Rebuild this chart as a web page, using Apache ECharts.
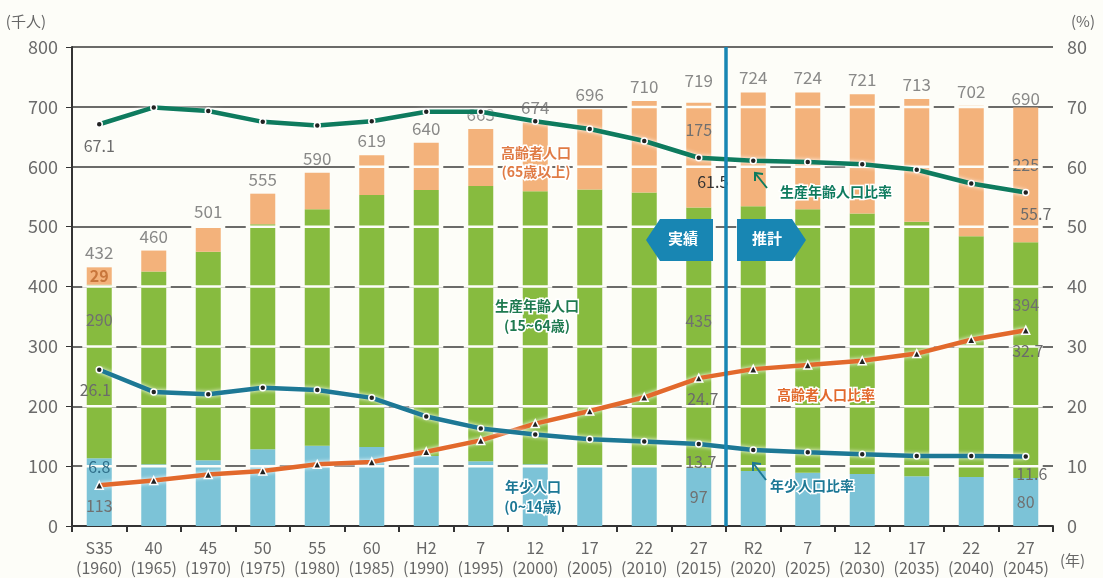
<!DOCTYPE html>
<html>
<head>
<meta charset="utf-8">
<title>人口推移</title>
<script src="https://cdn.jsdelivr.net/npm/echarts@6.0.0/dist/echarts.min.js"></script>
<style>
  html, body { margin: 0; padding: 0; background: #fdfdf8; }
  #main { width: 1103px; height: 578px; }
</style>
</head>
<body>
<div id="main"></div>
<script>
// 年次（和暦・西暦）
var years = ['S35', '40', '45', '50', '55', '60', 'H2', '7', '12', '17', '22', '27', 'R2', '7', '12', '17', '22', '27'];
var westernYears = ['1960', '1965', '1970', '1975', '1980', '1985', '1990', '1995', '2000', '2005', '2010', '2015', '2020', '2025', '2030', '2035', '2040', '2045'];

// 人口（千人）
var young = [113, 103, 110, 128, 134, 132, 117, 108, 103, 101, 100, 97, 92, 89, 87, 83, 82, 80];
var working = [290, 322, 348, 376, 395, 421, 444, 460, 456, 461, 457, 435, 442, 440, 435, 425, 402, 394];
var elderly = [29, 35, 43, 51, 61, 66, 79, 95, 115, 134, 153, 175, 190, 195, 199, 205, 218, 225];
var totals = [432, 460, 501, 555, 590, 619, 640, 663, 674, 696, 710, 719, 724, 724, 721, 713, 702, 690];

// 比率（%）
var youngRate = [26.1, 22.4, 22.0, 23.1, 22.7, 21.4, 18.3, 16.3, 15.3, 14.5, 14.1, 13.7, 12.7, 12.3, 12.0, 11.7, 11.7, 11.6];
var workingRate = [67.1, 69.9, 69.3, 67.5, 66.9, 67.6, 69.2, 69.2, 67.6, 66.3, 64.3, 61.5, 61.0, 60.8, 60.4, 59.5, 57.2, 55.7];
var elderlyRate = [6.8, 7.6, 8.6, 9.2, 10.3, 10.7, 12.4, 14.3, 17.1, 19.2, 21.5, 24.7, 26.2, 26.9, 27.6, 28.8, 31.1, 32.7];

// 軸目盛
var popTicks = [0, 800, 100];
var rateTicks = [0, 80, 10];

var FONT = '"Noto Sans CJK JP", "Noto Sans", sans-serif';
var GRAY = '#6b6b6b';
var BG = '#fdfdf8';

// 指定した位置だけラベル付きのデータにする
function withLabels(arr, labels) {
  return arr.map(function (v, i) {
    if (labels[i]) {
      return { value: v, label: Object.assign({ show: true }, labels[i]) };
    }
    return v;
  });
}

var chart = echarts.init(document.getElementById('main'));

var barLabel = { color: '#707070', fontSize: 16, fontFamily: FONT };

// 棒の上を通る目盛線のすき間（白抜き）
var stackTop = young.map(function (v, i) { return [i, v + working[i] + elderly[i]]; });

var option = {
  backgroundColor: BG,
  animation: false,
  textStyle: { fontFamily: FONT },
  grid: { left: 72, right: 50, top: 47, bottom: 51 },
  xAxis: {
    type: 'category',
    data: years.map(function (y, i) { return y + '\n(' + westernYears[i] + ')'; }),
    axisLine: { lineStyle: { color: '#333', width: 2 } },
    axisTick: { show: true, length: 6, lineStyle: { color: '#333', width: 2 } },
    axisLabel: { color: '#666', fontSize: 16, lineHeight: 20, margin: 12, interval: 0 }
  },
  yAxis: [
    {
      type: 'value',
      min: popTicks[0], max: popTicks[1], interval: popTicks[2],
      name: '(千人)',
      nameGap: 18,
      nameTextStyle: { color: '#666', fontSize: 15, align: 'right', padding: [0, 26, 0, 0] },
      axisLine: { show: true, lineStyle: { color: '#333', width: 2 } },
      axisTick: { show: true, length: 6, lineStyle: { color: '#333' } },
      axisLabel: { color: GRAY, fontSize: 18, margin: 14 },
      splitLine: { lineStyle: { color: '#3a3a3a', width: 1.5 } }
    },
    {
      type: 'value',
      min: rateTicks[0], max: rateTicks[1], interval: rateTicks[2],
      name: '(%)',
      nameGap: 18,
      nameTextStyle: { color: '#666', fontSize: 15, align: 'left', padding: [0, 0, 0, 18] },
      axisLine: { show: false },
      axisTick: { show: false },
      axisLabel: { color: GRAY, fontSize: 18, margin: 14 },
      splitLine: { show: false }
    }
  ],
  series: [
    {
      name: '年少人口',
      type: 'bar',
      stack: 'pop',
      barWidth: 25,
      itemStyle: { color: '#7cc3d7' },
      data: withLabels(young, {
        0: Object.assign({ position: 'inside', offset: [0, 14] }, barLabel),
        11: Object.assign({ position: 'inside' }, barLabel),
        17: Object.assign({ position: 'inside' }, barLabel)
      })
    },
    {
      name: '生産年齢人口',
      type: 'bar',
      stack: 'pop',
      itemStyle: { color: '#87bb3f' },
      data: withLabels(working, {
        0: Object.assign({ position: 'insideTop', offset: [0, 22] }, barLabel),
        11: Object.assign({ position: 'insideTop', offset: [0, 100] }, barLabel),
        17: Object.assign({ position: 'insideTop', offset: [0, 50] }, barLabel)
      })
    },
    {
      name: '高齢者人口',
      type: 'bar',
      stack: 'pop',
      itemStyle: { color: '#f3b27b' },
      data: withLabels(elderly, {
        0: Object.assign({}, barLabel, { position: 'inside', color: '#c8763c', fontWeight: 'bold' }),
        11: Object.assign({ position: 'insideTop', offset: [0, 14] }, barLabel),
        17: Object.assign({ position: 'insideTop', offset: [0, 44] }, barLabel)
      })
    },
    {
      name: '目盛すき間',
      type: 'custom',
      silent: true,
      z: 3,
      data: stackTop,
      renderItem: function (params, api) {
        var i = api.value(0);
        var top = api.value(1);
        var children = [];
        for (var v = popTicks[2]; v < top; v += popTicks[2]) {
          var p = api.coord([i, v]);
          children.push({
            type: 'line',
            shape: { x1: p[0] - 17, y1: p[1], x2: p[0] + 17, y2: p[1] },
            style: { stroke: BG, lineWidth: 2.5 }
          });
        }
        return { type: 'group', children: children };
      }
    },
    {
      name: '総数',
      type: 'scatter',
      symbolSize: 0,
      silent: true,
      data: totals,
      label: { show: true, position: 'top', distance: 6, color: GRAY, fontSize: 17 }
    },
    {
      name: '生産年齢人口比率',
      type: 'line',
      yAxisIndex: 1,
      symbol: 'circle',
      symbolSize: 6,
      itemStyle: { color: '#222', borderColor: '#fff', borderWidth: 1.5 },
      lineStyle: { color: '#0e7b5e', width: 4.5, shadowColor: '#fff', shadowBlur: 4 },
      z: 5,
      data: withLabels(workingRate, {
        0: { position: 'bottom', distance: 10, color: GRAY, fontSize: 16 },
        11: { position: 'bottom', distance: 12, offset: [14, 0], color: '#333', fontSize: 16 },
        17: { position: 'bottom', distance: 10, offset: [10, 0], color: GRAY, fontSize: 16 }
      })
    },
    {
      name: '高齢者人口比率',
      type: 'line',
      yAxisIndex: 1,
      symbol: 'triangle',
      symbolSize: 8,
      itemStyle: { color: '#222', borderColor: '#fff', borderWidth: 1.5 },
      lineStyle: { color: '#e2692c', width: 4.5, shadowColor: '#fff', shadowBlur: 4 },
      z: 5,
      data: withLabels(elderlyRate, {
        0: { position: 'top', distance: 6, color: '#2f6f8a', fontSize: 16 },
        11: { position: 'bottom', distance: 8, offset: [4, 0], color: GRAY, fontSize: 16 },
        17: { position: 'bottom', distance: 8, offset: [2, 0], color: GRAY, fontSize: 16 }
      })
    },
    {
      name: '年少人口比率',
      type: 'line',
      yAxisIndex: 1,
      symbol: 'circle',
      symbolSize: 6,
      itemStyle: { color: '#222', borderColor: '#fff', borderWidth: 1.5 },
      lineStyle: { color: '#1d7895', width: 4.5, shadowColor: '#fff', shadowBlur: 4 },
      z: 5,
      data: withLabels(youngRate, {
        0: { position: 'bottom', distance: 8, offset: [-4, 0], color: GRAY, fontSize: 16 },
        11: { position: 'bottom', distance: 6, offset: [2, 0], color: GRAY, fontSize: 16 },
        17: { position: 'bottom', distance: 6, offset: [6, 0], color: GRAY, fontSize: 16 }
      })
    }
  ]
};

chart.setOption(option);

// 実績／推計の境目（H27とR2の間）
var x27 = chart.convertToPixel({ xAxisIndex: 0 }, 11);
var xR2 = chart.convertToPixel({ xAxisIndex: 0 }, 12);
var xDiv = (x27 + xR2) / 2;
var yTop = chart.convertToPixel({ yAxisIndex: 0 }, popTicks[1]);
var yBot = chart.convertToPixel({ yAxisIndex: 0 }, popTicks[0]);

var BLUE = '#1886b3';
var annoStyle = function (color) {
  return { fill: color, font: 'bold 14px ' + FONT, textAlign: 'center', stroke: '#fff', lineWidth: 3 };
};

chart.setOption({
  graphic: [
    { type: 'line', z: 20, shape: { x1: xDiv, y1: yTop, x2: xDiv, y2: yBot }, style: { stroke: BLUE, lineWidth: 3.5 } },
    // 実績
    { type: 'polygon', z: 20, shape: { points: [[xDiv - 80, 240], [xDiv - 66, 219], [xDiv - 13, 219], [xDiv - 13, 261], [xDiv - 66, 261]] }, style: { fill: BLUE } },
    { type: 'text', z: 21, x: xDiv - 43, y: 231, style: { text: '実績', fill: '#fff', font: 'bold 15px ' + FONT, textAlign: 'center' } },
    // 推計
    { type: 'polygon', z: 20, shape: { points: [[xDiv + 11, 219], [xDiv + 66, 219], [xDiv + 80, 240], [xDiv + 66, 261], [xDiv + 11, 261]] }, style: { fill: BLUE } },
    { type: 'text', z: 21, x: xDiv + 41, y: 231, style: { text: '推計', fill: '#fff', font: 'bold 15px ' + FONT, textAlign: 'center' } },

    // 系列の説明
    { type: 'text', z: 21, x: 536, y: 143, style: Object.assign(annoStyle('#e07b45'), { text: '高齢者人口\n(65歳以上)', lineHeight: 19 }) },
    { type: 'text', z: 21, x: 537, y: 296, style: Object.assign(annoStyle('#1f7a50'), { text: '生産年齢人口\n(15~64歳)', lineHeight: 20 }) },
    { type: 'text', z: 21, x: 533, y: 477, style: Object.assign(annoStyle('#1d7895'), { text: '年少人口\n(0~14歳)', lineHeight: 20 }) },

    { type: 'text', z: 21, x: 836, y: 185, style: Object.assign(annoStyle('#0e7b5e'), { text: '生産年齢人口比率' }) },
    { type: 'polyline', z: 21, shape: { points: [[767, 188], [755, 173]] }, style: { stroke: '#0e7b5e', lineWidth: 2 } },
    { type: 'polyline', z: 21, shape: { points: [[755, 181], [755, 173], [763, 174]] }, style: { stroke: '#0e7b5e', lineWidth: 2, fill: null } },

    { type: 'text', z: 21, x: 826, y: 388, style: Object.assign(annoStyle('#e2692c'), { text: '高齢者人口比率' }) },

    { type: 'text', z: 21, x: 812, y: 479, style: Object.assign(annoStyle('#1d7895'), { text: '年少人口比率' }) },
    { type: 'polyline', z: 21, shape: { points: [[766, 480], [753, 463]] }, style: { stroke: '#1d7895', lineWidth: 2 } },
    { type: 'polyline', z: 21, shape: { points: [[753, 471], [753, 463], [761, 464]] }, style: { stroke: '#1d7895', lineWidth: 2, fill: null } },

    { type: 'text', z: 21, x: 1060, y: 553, style: { text: '(年)', fill: '#666', font: '15px ' + FONT } }
  ]
});
</script>
</body>
</html>
